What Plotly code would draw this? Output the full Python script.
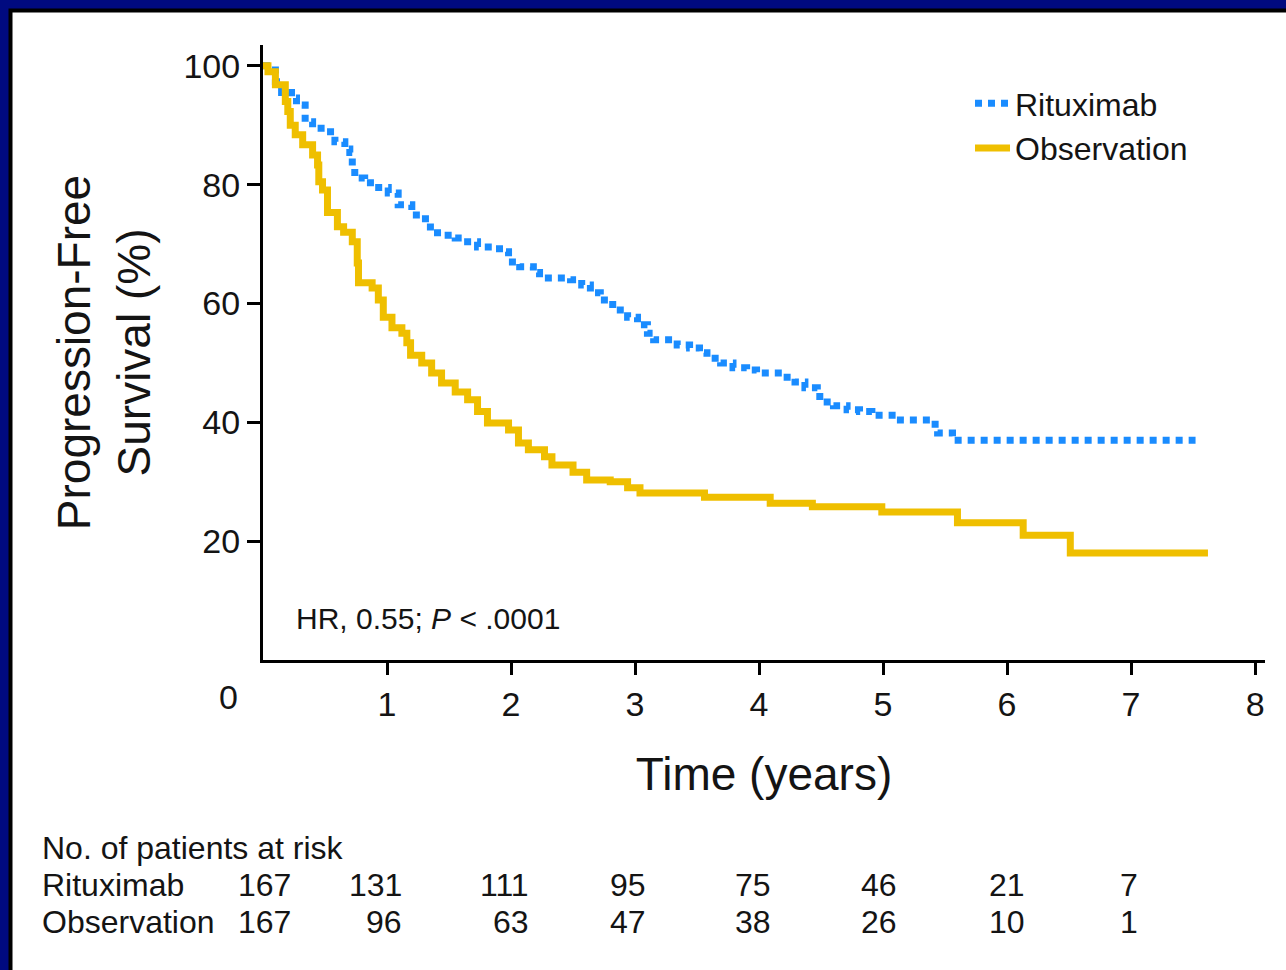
import plotly.graph_objects as go

# ---- data ----
rit_t = [0, 0.10, 0.15, 0.23, 0.27, 0.34, 0.40, 0.50, 0.58, 0.66, 0.70, 0.72, 0.74, 0.82, 0.90, 1.01, 1.09, 1.20, 1.31, 1.35,
         1.44, 1.55, 1.65, 1.73, 1.87, 1.94, 1.98, 2.07, 2.18, 2.23, 2.48, 2.57, 2.64, 2.72, 2.82, 2.94, 3.02, 3.10, 3.15, 3.34,
         3.44, 3.52, 3.58, 3.69, 3.79, 3.90, 3.98, 4.19, 4.29, 4.37, 4.47, 4.49, 4.60, 4.71, 4.81, 4.91, 5.14, 5.42, 5.44, 5.56, 7.52]
rit_s = [100, 97.3, 95.5, 94.6, 93.4, 90.6, 89.5, 88.9, 87.2, 86.0, 85.4, 82.8, 81.1, 80.3, 79.5, 78.6, 76.6, 74.9, 73.6, 71.9,
         71.5, 71.0, 70.4, 69.5, 69.2, 68.7, 67.0, 66.2, 65.2, 64.3, 64.0, 63.1, 61.8, 60.6, 58.9, 57.7, 56.4, 55.0, 53.9, 53.0,
         52.5, 51.7, 50.8, 50.0, 49.2, 48.8, 48.3, 47.6, 46.8, 45.8, 45.1, 43.4, 42.8, 42.1, 41.8, 41.2, 40.4, 39.1, 38.2, 37.0, 37.0]

obs_t = [0, 0.04, 0.10, 0.18, 0.20, 0.22, 0.26, 0.32, 0.40, 0.44, 0.45, 0.48, 0.52, 0.60, 0.65, 0.72, 0.76, 0.77, 0.88, 0.93,
         0.97, 1.04, 1.12, 1.16, 1.19, 1.28, 1.36, 1.44, 1.55, 1.65, 1.73, 1.81, 1.98, 2.06, 2.14, 2.27, 2.33, 2.50, 2.61, 2.80,
         2.94, 3.04, 3.56, 4.09, 4.43, 4.99, 5.60, 6.13, 6.51, 7.62]
obs_s = [100, 99, 96.8, 94, 92.3, 90, 88.4, 86.7, 85, 83.3, 80.5, 79.1, 75.3, 72.9, 72.0, 70.4, 66.8, 63.5, 62.6, 60.6,
         57.7, 55.9, 55.0, 53.4, 51.3, 50.0, 48.3, 46.6, 45.1, 43.8, 41.8, 39.9, 38.7, 36.5, 35.4, 34.2, 32.8, 31.6, 30.3, 30.0,
         29.0, 28.1, 27.4, 26.4, 25.8, 24.9, 23.1, 21.0, 18.0, 18.0]

risk_times = [0, 1, 2, 3, 4, 5, 6, 7]
risk_rituximab = [167, 131, 111, 95, 75, 46, 21, 7]
risk_observation = [167, 96, 63, 47, 38, 26, 10, 1]

x_ticks = [1, 2, 3, 4, 5, 6, 7, 8]
y_ticks = [20, 40, 60, 80, 100]

# ---- layout geometry (pixels) ----
W, H = 1286, 970
L, R, T, B = 263, 1265, 45, 660
FONT = "Liberation Sans, Arial, Helvetica, sans-serif"
TXT = "#141414"
BLUE = "#1a8cff"
GOLD = "#efbf00"
NAVY = "#000a80"
RISK_SHIFT = [30, 17, 20, 13, 14, 16, 20, 9]  # right-edge offsets of the at-risk columns (px)


def px(xp):
    return (xp - L) / (R - L)


def py(yp):
    return (B - yp) / (B - T)


fig = go.Figure()
fig.add_trace(go.Scatter(x=rit_t, y=rit_s, mode="lines", name="Rituximab",
                         line=dict(color=BLUE, width=7, dash="7px,6px", shape="hv")))
fig.add_trace(go.Scatter(x=obs_t, y=obs_s, mode="lines", name="Observation",
                         line=dict(color=GOLD, width=7, shape="hv")))

TS = 32  # table font size
ann = []
ann.append(dict(x=px(228), y=py(697), xref="paper", yref="paper", text="0", showarrow=False,
                font=dict(size=34, color=TXT, family=FONT), xanchor="center", yanchor="middle"))
ann.append(dict(x=px(294), y=py(618), xref="paper", yref="paper",
                text="HR, 0.55; <i>P</i> &lt; .0001", showarrow=False,
                font=dict(size=30, color=TXT, family=FONT), xanchor="left", yanchor="middle"))
ann.append(dict(x=px(40), y=py(848), xref="paper", yref="paper", text="No. of patients at risk",
                showarrow=False, font=dict(size=TS, color=TXT, family=FONT), xanchor="left", yanchor="middle"))
ann.append(dict(x=px(40), y=py(885), xref="paper", yref="paper", text="Rituximab",
                showarrow=False, font=dict(size=TS, color=TXT, family=FONT), xanchor="left", yanchor="middle"))
ann.append(dict(x=px(40), y=py(922), xref="paper", yref="paper", text="Observation",
                showarrow=False, font=dict(size=TS, color=TXT, family=FONT), xanchor="left", yanchor="middle"))
for t, a, b, sh in zip(risk_times, risk_rituximab, risk_observation, RISK_SHIFT):
    ann.append(dict(x=t, y=py(885), xref="x", yref="paper", text=str(a), showarrow=False, xshift=sh,
                    font=dict(size=TS, color=TXT, family=FONT), xanchor="right", yanchor="middle"))
    ann.append(dict(x=t, y=py(922), xref="x", yref="paper", text=str(b), showarrow=False, xshift=sh,
                    font=dict(size=TS, color=TXT, family=FONT), xanchor="right", yanchor="middle"))

shapes = [
    dict(type="rect", xref="paper", yref="paper", x0=px(10.5), y0=py(10.5), x1=px(1400), y1=py(1100),
         fillcolor="white", line=dict(color="black", width=4), layer="below"),
]

fig.update_layout(
    width=W, height=H,
    margin=dict(l=L, r=W - R, t=T, b=H - B, autoexpand=False),
    paper_bgcolor=NAVY,
    plot_bgcolor="white",
    font=dict(family=FONT, color=TXT),
    showlegend=True,
    legend=dict(x=px(970), y=py(76), xanchor="left", yanchor="top", bgcolor="rgba(0,0,0,0)",
                font=dict(size=32, color=TXT, family=FONT), tracegroupgap=0, itemwidth=35),
    annotations=ann,
    shapes=shapes,
    xaxis=dict(range=[0, 8.08], tickvals=x_ticks, ticktext=[str(v) for v in x_ticks],
               showgrid=False, zeroline=False, showline=True, linecolor="black", linewidth=3,
               ticks="outside", ticklen=12, tickwidth=3, tickcolor="black",
               tickfont=dict(size=34, color=TXT, family=FONT),
               title=dict(text="Time (years)", font=dict(size=46, color=TXT, family=FONT), standoff=37)),
    yaxis=dict(range=[0, 103.5], tickvals=y_ticks, ticktext=[str(v) for v in y_ticks],
               showgrid=False, zeroline=False, showline=True, linecolor="black", linewidth=3,
               ticks="outside", ticklen=13, tickwidth=3, tickcolor="black",
               tickfont=dict(size=34, color=TXT, family=FONT),
               title=dict(text="Progression-Free<br>Survival (%)", font=dict(size=46, color=TXT, family=FONT),
                          standoff=19)),
)

fig.write_html(
    "out.html",
    config={"displayModeBar": False},
    post_script="document.body.style.margin='0px';document.body.style.background='" + NAVY + "';",
)
